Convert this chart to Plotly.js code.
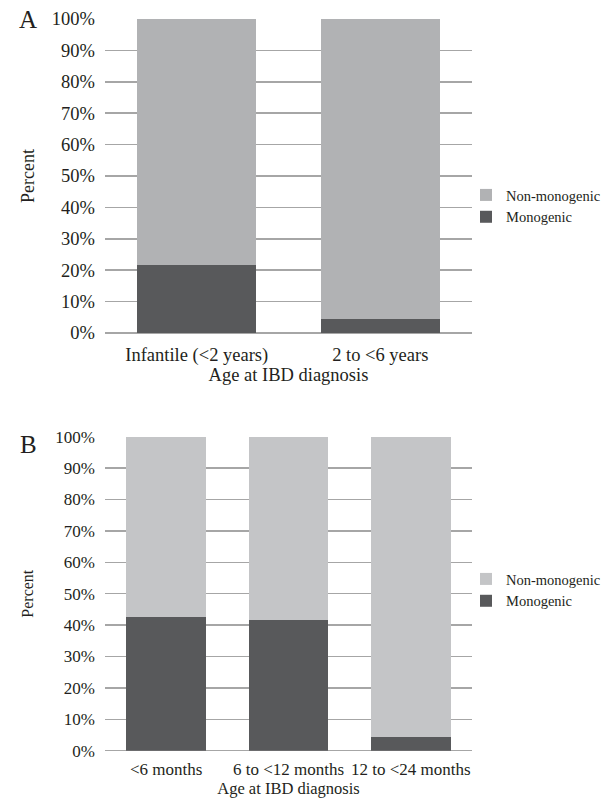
<!DOCTYPE html>
<html>
<head>
<meta charset="utf-8">
<script src="https://cdn.plot.ly/plotly-3.0.1.min.js"></script>
<style>html,body{margin:0;padding:0;background:#fff;}</style>
</head>
<body>
<div id="chart" style="width:609px;height:803px;"></div>
<script>
// Panel A data
const catsA = ["Infantile (<2 years)", "2 to <6 years"];
const monoA = [21.6, 4.5];
const nonMonoA = [78.4, 95.5];
// Panel B data
const catsB = ["<6 months", "6 to <12 months", "12 to <24 months"];
const monoB = [42.6, 41.6, 4.4];
const nonMonoB = [57.4, 58.4, 95.6];
const seriesNames = ["Monogenic", "Non-monogenic"];

const W = 609, H = 803;
const px = v => v / W;
const py = v => 1 - v / H;
const serif = "'Liberation Serif', 'Times New Roman', serif";
const txt = "#231f20";
const grid = "#a6a6a6";
const darkC = "#58595b";
const lightA = "#b1b2b4";
const lightB = "#c4c5c7";

const traces = [
  {type: "bar", x: catsA, y: monoA, name: seriesNames[0], marker: {color: darkC}, xaxis: "x", yaxis: "y", legend: "legend"},
  {type: "bar", x: catsA, y: nonMonoA, name: seriesNames[1], marker: {color: lightA}, xaxis: "x", yaxis: "y", legend: "legend"},
  {type: "bar", x: catsB, y: monoB, name: seriesNames[0], marker: {color: darkC}, xaxis: "x2", yaxis: "y2", legend: "legend2"},
  {type: "bar", x: catsB, y: nonMonoB, name: seriesNames[1], marker: {color: lightB}, xaxis: "x2", yaxis: "y2", legend: "legend2"}
];

function yAx(domain, size, anchor) {
  return {
    domain: domain, anchor: anchor, range: [0, 100], dtick: 10, ticksuffix: "%",
    showgrid: true, gridcolor: grid, gridwidth: 1.5,
    zeroline: true, zerolinecolor: grid, zerolinewidth: 1.5,
    showline: false, ticks: "", ticklabelstandoff: 9,
    tickfont: {family: serif, size: size, color: txt},
    fixedrange: true
  };
}
function xAx(domain, size, anchor, standoff) {
  return {
    domain: domain, anchor: anchor, showgrid: false, showline: false, zeroline: false,
    ticks: "", ticklabelstandoff: standoff,
    tickfont: {family: serif, size: size, color: txt},
    fixedrange: true
  };
}

const layout = {
  width: W, height: H,
  margin: {l: 0, r: 0, t: 0, b: 0},
  paper_bgcolor: "#fff", plot_bgcolor: "#fff",
  barmode: "stack", bargap: 0.35,
  font: {family: serif, color: txt},
  xaxis: Object.assign(xAx([px(105), px(472)], 18.5, "y", 8), {title: {text: "Age at IBD diagnosis", font: {family: serif, size: 18.5, color: txt}, standoff: 3}}),
  yaxis: Object.assign(yAx([py(333), py(19)], 18.5, "x"), {title: {text: "Percent", font: {family: serif, size: 18, color: txt}, standoff: 12}}),
  xaxis2: Object.assign(xAx([px(105), px(472)], 17, "y2", 6), {title: {text: "Age at IBD diagnosis", font: {family: serif, size: 16.5, color: txt}, standoff: 4}}),
  yaxis2: Object.assign(yAx([py(750.7), py(436.7)], 17, "x2"), {title: {text: "Percent", font: {family: serif, size: 16, color: txt}, standoff: 17}}),
  legend: {x: px(466), y: py(179), xanchor: "left", yanchor: "top", traceorder: "reversed",
    font: {family: serif, size: 14.5, color: txt}, itemwidth: 30, bgcolor: "rgba(0,0,0,0)"},
  legend2: {x: px(466), y: py(563), xanchor: "left", yanchor: "top", traceorder: "reversed",
    font: {family: serif, size: 14.5, color: txt}, itemwidth: 30, bgcolor: "rgba(0,0,0,0)"},
  showlegend: true,
  annotations: [
    {text: "A", x: px(28), y: py(20), xref: "paper", yref: "paper", showarrow: false, xanchor: "center", yanchor: "middle", font: {family: serif, size: 25, color: txt}},
    {text: "B", x: px(28), y: py(444), xref: "paper", yref: "paper", showarrow: false, xanchor: "center", yanchor: "middle", font: {family: serif, size: 25, color: txt}}
  ]
};

Plotly.newPlot("chart", traces, layout, {displayModeBar: false, staticPlot: true});
</script>
</body>
</html>
